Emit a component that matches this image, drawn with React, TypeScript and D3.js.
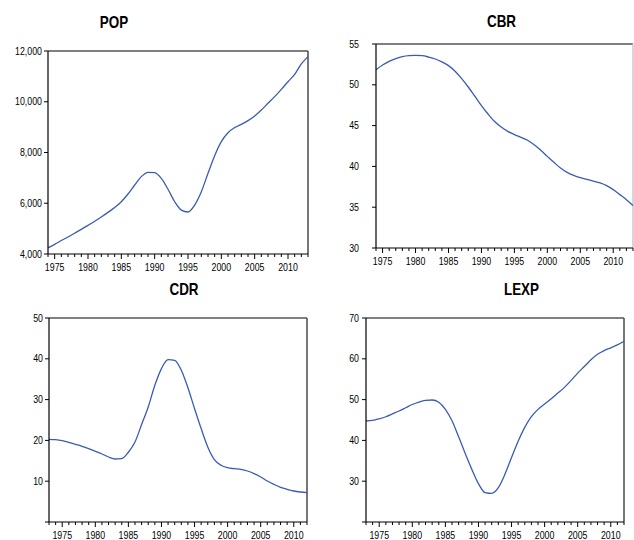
import * as d3 from "d3";

// annual observations
const years7413 = [1974, 1975, 1976, 1977, 1978, 1979, 1980, 1981, 1982, 1983, 1984, 1985, 1986, 1987, 1988, 1989, 1990, 1991, 1992, 1993, 1994, 1995, 1996, 1997, 1998, 1999, 2000, 2001, 2002, 2003, 2004, 2005, 2006, 2007, 2008, 2009, 2010, 2011, 2012, 2013];
const years7312 = [1973, 1974, 1975, 1976, 1977, 1978, 1979, 1980, 1981, 1982, 1983, 1984, 1985, 1986, 1987, 1988, 1989, 1990, 1991, 1992, 1993, 1994, 1995, 1996, 1997, 1998, 1999, 2000, 2001, 2002, 2003, 2004, 2005, 2006, 2007, 2008, 2009, 2010, 2011, 2012];

const pop = [4240, 4380, 4530, 4670, 4820, 4970, 5130, 5290, 5460, 5640, 5830, 6060, 6365, 6720, 7050, 7220, 7205, 6980, 6550, 6060, 5730, 5655, 5930, 6455, 7180, 7875, 8430, 8780, 8980, 9110, 9255, 9440, 9675, 9940, 10200, 10490, 10790, 11080, 11490, 11780];
const cbr = [51.85, 52.43, 52.88, 53.2, 53.45, 53.57, 53.6, 53.57, 53.4, 53.16, 52.8, 52.35, 51.65, 50.75, 49.73, 48.6, 47.45, 46.42, 45.5, 44.83, 44.3, 43.9, 43.56, 43.2, 42.66, 41.97, 41.23, 40.5, 39.8, 39.27, 38.9, 38.62, 38.41, 38.2, 37.97, 37.64, 37.15, 36.54, 35.92, 35.2];
const cdr = [20.26, 20.18, 19.93, 19.53, 19.04, 18.55, 17.97, 17.32, 16.67, 15.93, 15.44, 15.52, 17.1, 19.6, 23.9, 28.2, 33.5, 37.6, 39.8, 39.6, 37.2, 32.9, 27.8, 22.9, 18.4, 15.3, 13.9, 13.3, 13.07, 12.9, 12.5, 11.85, 11.03, 10.05, 9.23, 8.5, 8.0, 7.6, 7.35, 7.19];
const lexp = [44.75, 44.9, 45.3, 45.8, 46.5, 47.2, 48.0, 48.8, 49.4, 49.8, 49.9, 49.35, 47.6, 44.8, 40.9, 36.8, 32.9, 29.4, 27.2, 27.0, 28.4, 31.7, 35.8, 39.8, 43.2, 45.8, 47.6, 48.9, 50.2, 51.6, 53.0, 54.7, 56.5, 58.1, 59.75, 61.1, 62.0, 62.7, 63.4, 64.3];

const popTicks = [4000, 6000, 8000, 10000, 12000];
const cbrTicks = [30, 35, 40, 45, 50, 55];
const cdrTicks = [0, 10, 20, 30, 40, 50];
const lexpTicks = [20, 30, 40, 50, 60, 70];
const yearLabels = [1975, 1980, 1985, 1990, 1995, 2000, 2005, 2010];

const LINE = "#3b5bb5";
const FONT = "'Liberation Sans', Arial, sans-serif";
const SQUEEZE = 0.84;

const panels = [
  { title: "POP", years: years7413, values: pop, ticks: popTicks, fmt: d3.format(","), hideFirst: false,
    left: 48, right: 308, top: 51, bottom: 254, titleX: 114, titleY: 28, labelX: 42, rightColor: "#555" },
  { title: "CBR", years: years7413, values: cbr, ticks: cbrTicks, fmt: d3.format("d"), hideFirst: false,
    left: 376, right: 633, top: 44, bottom: 248, titleX: 501.5, titleY: 27, labelX: 359, rightColor: "#ccc" },
  { title: "CDR", years: years7312, values: cdr, ticks: cdrTicks, fmt: d3.format("d"), hideFirst: true,
    left: 49, right: 307, top: 318, bottom: 522, titleX: 184, titleY: 295, labelX: 43, rightColor: "#555" },
  { title: "LEXP", years: years7312, values: lexp, ticks: lexpTicks, fmt: d3.format("d"), hideFirst: true,
    left: 366, right: 624, top: 318, bottom: 522, titleX: 521.5, titleY: 295, labelX: 359, rightColor: "#555" },
];

function Panel({ p }: { p: typeof panels[number] }) {
  const x = d3.scaleLinear()
    .domain([p.years[0], p.years[p.years.length - 1]])
    .range([p.left, p.right]);
  const y = d3.scaleLinear()
    .domain([p.ticks[0], p.ticks[p.ticks.length - 1]])
    .range([p.bottom, p.top]);

  const line = d3.line<number>()
    .x((_, i) => x(p.years[i]))
    .y(d => y(d))
    .curve(d3.curveMonotoneX);

  return (
    <g>
      <text transform={`translate(${p.titleX},${p.titleY}) scale(${SQUEEZE},1)`} textAnchor="middle"
        fontFamily={FONT} fontWeight="bold" fontSize={16} fill="#000">{p.title}</text>

      {/* frame: top and right */}
      <line x1={p.left} x2={p.right} y1={p.top} y2={p.top} stroke="#555" strokeWidth={1.6} />
      <line x1={p.right} x2={p.right} y1={p.top} y2={p.bottom} stroke={p.rightColor} strokeWidth={1.6} />

      {/* series */}
      <path d={line(p.values) || ""} fill="none" stroke={LINE} strokeWidth={1.3} />

      {/* y axis */}
      <line x1={p.left} x2={p.left} y1={p.top} y2={p.bottom} stroke="#000" strokeWidth={1.2} />
      {p.ticks.map((t, i) => (
        <g key={t}>
          <line x1={p.left - 4} x2={p.left} y1={y(t)} y2={y(t)} stroke="#000" strokeWidth={1} />
          {!(p.hideFirst && i === 0) && (
            <text transform={`translate(${p.labelX},${y(t) + 3.6}) scale(${SQUEEZE},1)`} textAnchor="end"
              fontFamily={FONT} fontSize={10.5} fill="#000">{p.fmt(t)}</text>
          )}
        </g>
      ))}

      {/* x axis */}
      <line x1={p.left} x2={p.right} y1={p.bottom} y2={p.bottom} stroke="#000" strokeWidth={1.2} />
      {p.years.map(yr => (
        <line key={yr} x1={x(yr)} x2={x(yr)} y1={p.bottom} y2={p.bottom + (yr % 5 === 0 ? 5 : 3)}
          stroke="#000" strokeWidth={1} />
      ))}
      {yearLabels.map(yr => (
        <text key={yr} transform={`translate(${x(yr)},${p.bottom + 17}) scale(${SQUEEZE},1)`} textAnchor="middle"
          fontFamily={FONT} fontSize={10.5} fill="#000">{yr}</text>
      ))}
    </g>
  );
}

export default function App() {
  return (
    <svg width={634} height={540} style={{ position: "absolute", left: 0, top: 0, background: "#fff" }}>
      <rect width={634} height={540} fill="#fff" />
      {panels.map(p => <Panel key={p.title} p={p} />)}
    </svg>
  );
}
